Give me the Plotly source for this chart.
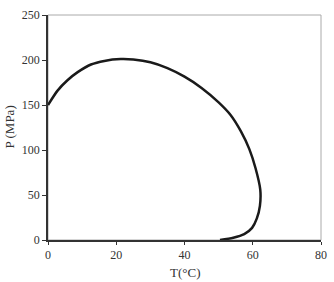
import plotly.graph_objects as go

T = [0, 2.8, 5.7, 8.7, 12.6, 16.5, 21.3, 25, 30, 35, 40, 45, 50, 53.5, 56.5, 59, 60.8, 62.2, 62.1, 61.2, 59.8, 57.5, 54.3, 50.4]
P = [150, 166, 177.5, 186.5, 195, 199, 201, 200.5, 197.5, 191, 181.5, 169, 153, 139, 121, 101, 80, 56, 38, 24, 13.5, 6.5, 2.5, 0]
x_ticks = [0, 20, 40, 60, 80]
y_ticks = [0, 50, 100, 150, 200, 250]

fig = go.Figure()
fig.add_trace(go.Scatter(x=T, y=P, mode="lines",
                         line=dict(color="#1a1a1a", width=2.5, shape="spline", smoothing=0.7),
                         showlegend=False))

ff = "Liberation Serif, DejaVu Serif, serif"
font = dict(family=ff, size=12, color="#333")
fig.update_layout(
    width=334, height=282,
    margin=dict(l=48, r=13, t=15, b=42, autoexpand=False),
    paper_bgcolor="white", plot_bgcolor="white",
    font=font,
    shapes=[dict(type="rect", xref="paper", yref="paper", x0=0, y0=0, x1=1, y1=1,
                 line=dict(color="#aaa", width=1), layer="below")],
    annotations=[
        dict(text="T(°C)", xref="paper", yref="paper", x=0.5, y=0, yshift=-32,
             showarrow=False, font=dict(family=ff, size=13, color="#333"), yanchor="middle"),
        dict(text="P (MPa)", xref="paper", yref="paper", x=0, xshift=-39, y=0.5,
             showarrow=False, textangle=-90, font=dict(family=ff, size=13, color="#333"), xanchor="center"),
    ],
)
fig.update_xaxes(range=[0, 80], tickvals=x_ticks, showgrid=False, zeroline=False, showline=True,
                 linecolor="#333", linewidth=1.5, automargin=False,
                 ticks="outside", ticklen=3, tickcolor="#333")
fig.update_yaxes(range=[0, 250], tickvals=y_ticks, showgrid=False, zeroline=False, showline=True,
                 linecolor="#333", linewidth=1.5, automargin=False,
                 ticks="outside", ticklen=4, tickcolor="#333")
fig.write_html("out.html")
